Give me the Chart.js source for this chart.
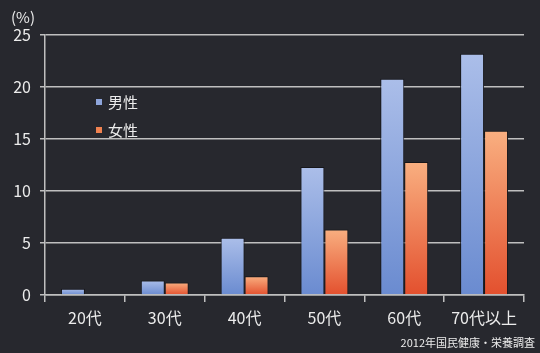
<!DOCTYPE html>
<html>
<head>
<meta charset="utf-8">
<script src="https://cdn.jsdelivr.net/npm/chart.js@4"></script>
<style>
  html, body { margin: 0; padding: 0; background: #27282e; }
  #wrap { width: 540px; height: 353px; }
</style>
</head>
<body>
<div id="wrap"><canvas id="myChart" width="540" height="353"></canvas></div>
<script>
var categories = ["20代", "30代", "40代", "50代", "60代", "70代以上"];
var male = [0.6, 1.4, 5.5, 12.3, 20.8, 23.2];
var female = [0.0, 1.2, 1.8, 6.3, 12.8, 15.8];
var seriesNames = ["男性", "女性"];
var yTicks = [0, 5, 10, 15, 20, 25];
var unitLabel = "(%)";
var sourceNote = "2012年国民健康・栄養調査";

var FONT = "'Noto Sans CJK JP', 'Noto Sans', sans-serif";
var TEXT = "#ececec";
var GRID = "#bfbfbf";

// each bar gets its own top-to-base gradient
function barGradient(top, bottom) {
  return function(context) {
    var chart = context.chart;
    if (!chart.chartArea || context.raw == null) return top;
    var ys = chart.scales.y;
    var y0 = ys.getPixelForValue(context.raw);
    var y1 = ys.getPixelForValue(0);
    if (y1 - y0 < 1) return top;
    var g = chart.ctx.createLinearGradient(0, y0, 0, y1);
    g.addColorStop(0, top);
    g.addColorStop(1, bottom);
    return g;
  };
}

var swatches = ["#8fa6dc", "#f08250"];

// legend inside the plot + unit label + source note
var extras = {
  id: "extras",
  afterDraw: function(chart) {
    var ctx = chart.ctx;
    ctx.save();
    ctx.font = "15px " + FONT;
    ctx.textBaseline = "middle";
    ctx.textAlign = "left";
    chart.data.datasets.forEach(function(ds, i) {
      var y = 102 + i * 28;
      ctx.fillStyle = swatches[i];
      ctx.fillRect(96, y - 3, 6, 6);
      ctx.fillStyle = TEXT;
      ctx.fillText(ds.label, 108, y);
    });
    ctx.font = "15px " + FONT;
    ctx.fillText(unitLabel, 11, 17);
    ctx.font = "11px " + FONT;
    ctx.textAlign = "right";
    ctx.fillText(sourceNote, 535, 343);
    ctx.restore();
  }
};

document.addEventListener("DOMContentLoaded", function() {
  var ctx = document.getElementById("myChart");
  new Chart(ctx, {
    type: "bar",
    data: {
      labels: categories,
      datasets: [
        {
          label: seriesNames[0],
          data: male,
          backgroundColor: barGradient("#abbee9", "#6a8bd0"),
          borderColor: "#16161a",
          borderWidth: 1
        },
        {
          label: seriesNames[1],
          data: female,
          backgroundColor: barGradient("#f9af80", "#e3502e"),
          borderColor: "#16161a",
          borderWidth: 1
        }
      ]
    },
    options: {
      responsive: false,
      animation: false,
      datasets: { bar: { categoryPercentage: 0.6, barPercentage: 1.0 } },
      layout: { padding: { left: 0, right: 16, top: 35, bottom: 18 } },
      plugins: {
        legend: { display: false },
        tooltip: { enabled: false }
      },
      scales: {
        x: {
          afterFit: function(scale) { scale.height = 40; },
          grid: { drawOnChartArea: false, drawTicks: true, tickLength: 7, color: GRID, lineWidth: 1.5 },
          border: { color: GRID, width: 1.5 },
          ticks: { color: TEXT, font: { family: FONT, size: 16 }, padding: 6 }
        },
        y: {
          min: 0,
          max: 25,
          afterFit: function(scale) { scale.width = 45; },
          afterBuildTicks: function(scale) {
            scale.ticks = yTicks.map(function(v) { return { value: v }; });
          },
          grid: { color: GRID, lineWidth: 1.5, tickLength: 5 },
          border: { color: GRID, width: 1.5 },
          ticks: { color: TEXT, font: { family: FONT, size: 16 }, padding: 9 }
        }
      }
    },
    plugins: [extras]
  });
});
</script>
</body>
</html>
